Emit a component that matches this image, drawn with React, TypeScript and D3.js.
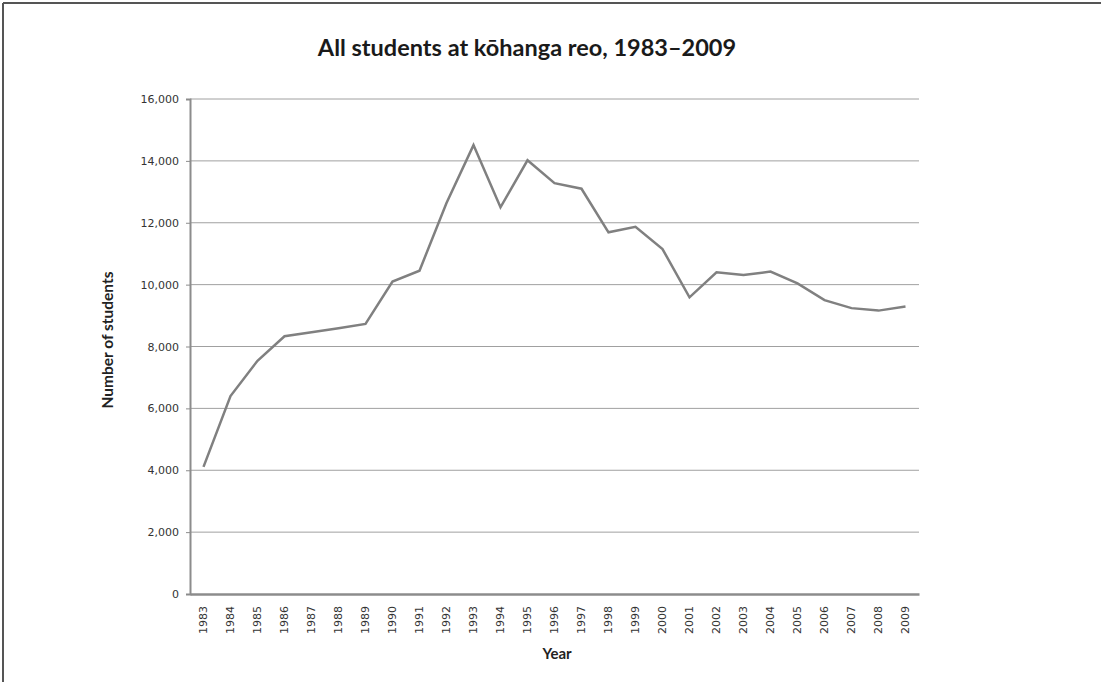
import React, { useEffect, useRef } from "react";
import * as d3 from "d3";

const years: string[] = [
  "1983", "1984", "1985", "1986", "1987", "1988", "1989", "1990", "1991",
  "1992", "1993", "1994", "1995", "1996", "1997", "1998", "1999", "2000",
  "2001", "2002", "2003", "2004", "2005", "2006", "2007", "2008", "2009",
];
const students: number[] = [
  4110, 6400, 7540, 8330, 8460, 8590, 8730, 10100, 10450,
  12640, 14510, 12500, 14020, 13280, 13100, 11690, 11870, 11150,
  9590, 10400, 10310, 10420, 10040, 9500, 9240, 9160, 9290,
];
const yTicks: number[] = [0, 2000, 4000, 6000, 8000, 10000, 12000, 14000, 16000];

const W = 1101;
const H = 682;
const M = { left: 190, right: 919, top: 99, bottom: 594 };

export default function App() {
  const ref = useRef<SVGSVGElement>(null);
  useEffect(() => {
    const svg = d3.select(ref.current);
    svg.selectAll("*").remove();

    svg.append("rect").attr("width", W).attr("height", H).attr("fill", "#fff");
    // frame (top and left edges visible)
    svg.append("line").attr("x1", 3).attr("x2", W).attr("y1", 3).attr("y2", 3)
      .attr("stroke", "#555").attr("stroke-width", 2);
    svg.append("line").attr("x1", 3).attr("x2", 3).attr("y1", 3).attr("y2", H)
      .attr("stroke", "#555").attr("stroke-width", 2);

    const x = d3.scaleBand<string>().domain(years).range([M.left, M.right]);
    const y = d3.scaleLinear().domain([0, 16000]).range([M.bottom, M.top]);

    // gridlines
    svg.append("g").selectAll("line").data(yTicks.filter((t) => t > 0)).join("line")
      .attr("x1", M.left).attr("x2", M.right)
      .attr("y1", (d) => y(d)).attr("y2", (d) => y(d))
      .attr("stroke", "#a0a0a0").attr("stroke-width", 1);

    // y axis
    const yAxis = d3.axisLeft(y).tickValues(yTicks).tickSize(4).tickPadding(7)
      .tickFormat((d) => d3.format(",")(d as number));
    const gy = svg.append("g").attr("transform", `translate(${M.left},0)`).call(yAxis);
    gy.select(".domain").attr("stroke", "#8c8c8c").attr("stroke-width", 2);
    gy.selectAll(".tick line").attr("stroke", "#8c8c8c");
    gy.selectAll("text").attr("font-family", "DejaVu Sans").attr("font-size", 11)
      .attr("fill", "#333");

    // x axis
    const xAxis = d3.axisBottom(x).tickSize(0).tickPadding(0);
    const gx = svg.append("g").attr("transform", `translate(0,${M.bottom})`).call(xAxis);
    gx.select(".domain").attr("stroke", "#8c8c8c").attr("stroke-width", 2.5);
    gx.selectAll("text")
      .attr("font-family", "DejaVu Sans").attr("font-size", 11).attr("fill", "#333")
      .attr("transform", "rotate(-90)")
      .attr("text-anchor", "end")
      .attr("x", -12).attr("y", 0).attr("dy", "0.35em");

    // line
    const line = d3.line<number>()
      .x((_, i) => (x(years[i]) as number) + x.bandwidth() / 2)
      .y((d) => y(d));
    svg.append("path").datum(students).attr("d", line)
      .attr("fill", "none").attr("stroke", "#808080").attr("stroke-width", 2.5)
      .attr("stroke-linejoin", "miter");

    // titles
    svg.append("text").attr("x", 527).attr("y", 56).attr("text-anchor", "middle")
      .attr("font-family", "Lato").attr("font-weight", "bold").attr("font-size", 23.5)
      .attr("fill", "#1a1a1a").text("All students at kōhanga reo, 1983–2009");
    svg.append("text").attr("transform", `translate(113,340) rotate(-90)`)
      .attr("text-anchor", "middle")
      .attr("font-family", "Lato").attr("font-weight", "bold").attr("font-size", 15.5)
      .attr("fill", "#222").text("Number of students");
    svg.append("text").attr("x", 557).attr("y", 659).attr("text-anchor", "middle")
      .attr("font-family", "Lato").attr("font-weight", "bold").attr("font-size", 15)
      .attr("fill", "#222").text("Year");
  }, []);
  return (
    <svg ref={ref} width={W} height={H}
      style={{ position: "absolute", left: 0, top: 0, display: "block" }} />
  );
}
